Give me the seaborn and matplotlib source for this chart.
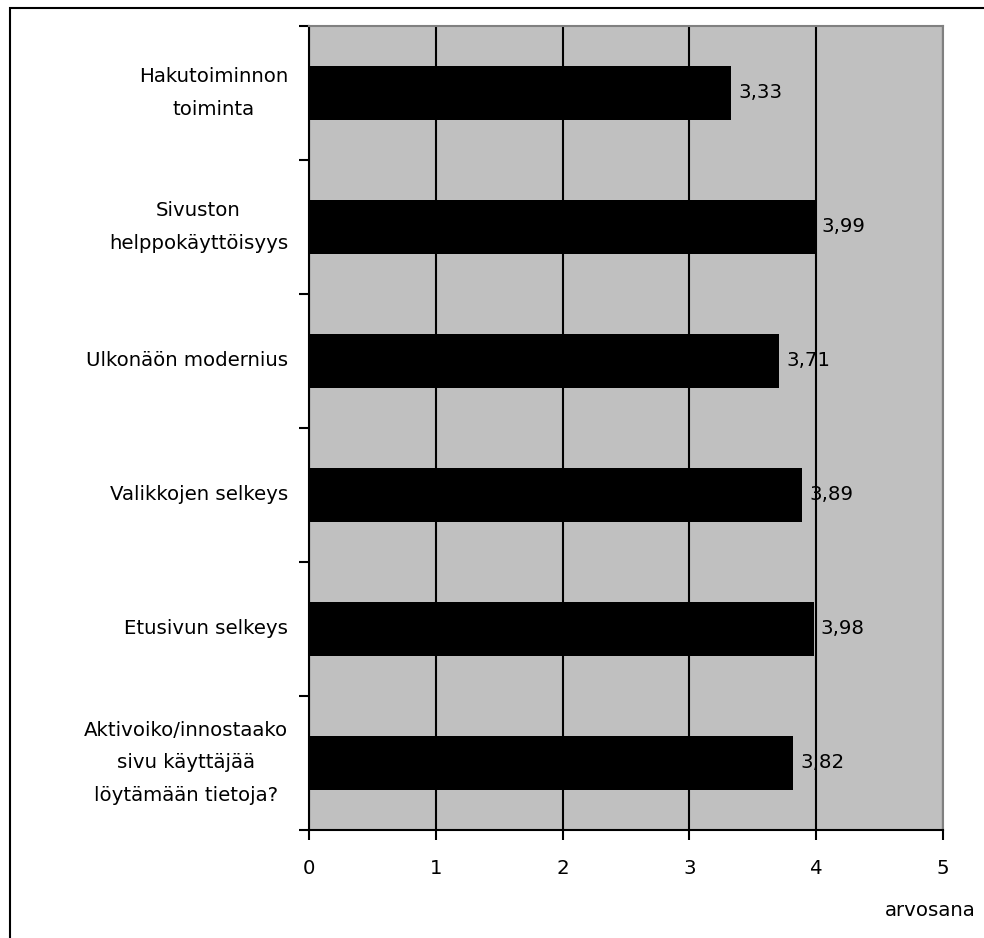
import matplotlib
matplotlib.use('Agg')
import matplotlib.pyplot as plt
import seaborn as sns
import pandas as pd
from matplotlib.patches import Rectangle
from matplotlib.ticker import FixedLocator

# Data
categories = [
    'Hakutoiminnon\ntoiminta',
    'Sivuston\nhelppokäyttöisyys',
    'Ulkonäön modernius',
    'Valikkojen selkeys',
    'Etusivun selkeys',
    'Aktivoiko/innostaako\nsivu käyttäjää\nlöytämään tietoja?',
]
scores = [3.33, 3.99, 3.71, 3.89, 3.98, 3.82]
x_ticks = [0, 1, 2, 3, 4, 5]
x_label = 'arvosana'

df = pd.DataFrame({'kohde': categories, 'arvosana': scores})

sns.set_style('white')
plt.rcParams['font.family'] = ['DejaVu Sans']
plt.rcParams['font.size'] = 14.2
plt.rcParams['text.color'] = 'black'
plt.rcParams['xtick.color'] = 'black'
plt.rcParams['ytick.color'] = 'black'

fig = plt.figure(figsize=(9.84, 9.38), dpi=100)
ax = fig.add_axes([309 / 984, 1 - 830 / 938, (943 - 309) / 984, (830 - 26) / 938])
ax.set_facecolor('#c0c0c0')

sns.barplot(data=df, x='arvosana', y='kohde', orient='h', color='black',
            saturation=1, width=0.41, ax=ax, zorder=3,
            edgecolor='black', linewidth=0)

# value labels with decimal comma
ax.bar_label(ax.containers[0], labels=[f'{v:.2f}'.replace('.', ',') for v in scores],
             padding=5, fontsize=14.2, color='black')

ax.set_xlim(0, 5)
ax.set_ylim(len(categories) - 0.5, -0.5)
ax.set_xticks(x_ticks)
ax.set_xticklabels([str(t) for t in x_ticks])
ax.set_xlabel('')
ax.set_ylabel('')

# gridlines
ax.set_axisbelow(True)
ax.xaxis.grid(True, color='black', linewidth=1.5, zorder=1)
ax.yaxis.grid(False)

# y ticks: labels at centres, tick marks at boundaries
ax.yaxis.set_minor_locator(FixedLocator([i - 0.5 for i in range(len(categories) + 1)]))
ax.tick_params(axis='y', which='major', length=0, pad=15, labelcolor='black')
ax.tick_params(axis='y', which='minor', length=7, width=1.5, color='black', left=True)
ax.tick_params(axis='x', which='major', length=7, width=1.5, color='black',
               direction='out', bottom=True, pad=14, labelcolor='black')
for lbl in ax.get_yticklabels():
    lbl.set_multialignment('center')
    lbl.set_linespacing(1.9)
    lbl.set_verticalalignment('center')

for side in ['left', 'bottom']:
    ax.spines[side].set_color('black')
    ax.spines[side].set_linewidth(1.5)
for side in ['top', 'right']:
    ax.spines[side].set_color('#808080')
    ax.spines[side].set_linewidth(1.5)
    ax.spines[side].set_visible(True)

fig.text(885 / 984, 1 - 910 / 938, x_label, ha='left', va='center', fontsize=14.2,
         color='black')

# outer border of the chart object
fig.patches.append(Rectangle((10 / 984, -0.2), 1.2, 1.2 - 8 / 938,
                             transform=fig.transFigure, fill=False,
                             edgecolor='black', linewidth=1.5))

fig.savefig('out.png', dpi=100, facecolor='white')
